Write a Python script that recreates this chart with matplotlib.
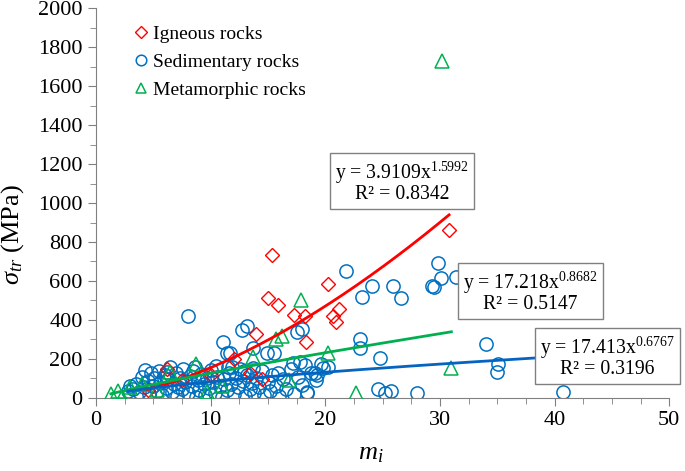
import numpy as np
import matplotlib
matplotlib.use("Agg")
import matplotlib.pyplot as plt

plt.rcParams['font.family'] = 'Liberation Serif'
plt.rcParams['mathtext.fontset'] = 'custom'
plt.rcParams['mathtext.rm'] = 'Liberation Serif'
plt.rcParams['mathtext.it'] = 'Liberation Serif:italic'

# igneous rocks
ign_x = [4.5, 6.2, 7.5, 10.0, 12.0, 13.4, 14.0, 15.0, 15.4, 15.9, 17.3, 18.2, 18.3,
         20.2, 20.7, 20.9, 21.2, 30.8, 14.5]
ign_y = [40, 150, 90, 120, 200, 130, 330, 515, 735, 478, 425, 420, 285,
         585, 420, 392, 456, 862, 95]

# sedimentary rocks
sed_x = [3.2, 3.5, 3.8, 4.0, 4.2, 4.5, 4.6, 4.8, 5.0, 5.1, 5.3, 5.5, 5.6, 5.8, 6.0, 6.1,
         6.3, 6.5, 6.6, 6.8, 7.0, 7.1, 7.3, 7.5, 7.6, 7.8, 8.0, 8.2, 8.4, 8.5, 8.7, 8.9,
         9.0, 9.2, 9.4, 9.5, 9.7, 9.9, 10.0, 10.2, 10.4, 10.6, 10.8, 11.0, 11.2, 11.4,
         11.6, 11.8, 12.0, 12.2, 12.4, 12.6, 12.8, 13.0, 13.2, 13.4, 13.6, 13.8, 14.0,
         14.2, 14.5, 14.7, 15.0, 15.2, 15.4, 15.7, 16.0, 16.3, 16.6, 17.0, 17.3, 17.6,
         18.0, 18.4, 18.8, 19.2, 19.6, 17.8, 4.3, 6.2, 8.6, 3.0, 5.9, 7.2, 10.5, 12.9,
         2.8, 11.5,
         8.0, 21.8, 11.1, 12.7, 13.2, 17.5, 11.7, 13.7, 15.5, 23.2, 23.0, 23.0, 29.8,
         30.1, 31.4, 32.4, 29.3, 29.5, 25.9, 26.6, 24.1, 24.8, 34.0, 35.1, 35.0, 24.6,
         25.2, 25.7, 28.0, 40.7, 18.2, 19.1, 19.8, 18.4, 18.0, 14.9, 11.4, 11.9, 13.7,
         17.2, 15.9, 20.2, 19.3]
sed_y = [45, 70, 30, 110, 55, 85, 20, 130, 60, 100, 35, 140, 75, 15, 120, 50,
         95, 160, 30, 70, 130, 10, 100, 45, 150, 80, 25, 115, 60, 140, 5, 90,
         40, 125, 70, 15, 105, 50, 145, 80, 25, 110, 60, 5, 95, 40,
         130, 70, 20, 105, 55, 150, 85, 10, 120, 45, 75, 25, 100,
         55, 140, 15, 80, 35, 120, 60, 10, 95, 45, 150, 20, 110,
         65, 30, 130, 90, 175, 185, 145, 135, 160, 60, 105, 55, 165, 140,
         35, 160,
         420, 650, 288, 349, 369, 340, 231, 256, 231, 518, 303, 256, 692,
         615, 620, 595, 574, 569, 574, 513, 574, 205, 277, 174, 133, 46,
         26, 36, 26, 31, 169, 128, 154, 26, 354, 231, 231, 159, 154,
         180, 128, 160, 118]

# metamorphic rocks
met_x = [1.3, 1.9, 2.3, 3.0, 5.3, 6.5, 8.7, 9.7, 13.7, 15.7, 16.2, 16.8, 17.9,
         20.2, 22.7, 30.2, 31.0, 4.0, 11.0]
met_y = [20, 38, 5, 56, 41, 133, 175, 31, 210, 305, 318, 90, 500,
         232, 28, 1728, 154, 70, 60]

# power trendlines (a, b) and labels
fits = {
    'ign': (3.9109, 1.5992, '1.5992', '0.8342'),
    'sed': (17.413, 0.6767, '0.6767', '0.3196'),
    'met': (17.218, 0.8682, '0.8682', '0.5147'),
}

red = '#FF0000'
blue = '#0070C0'
green = '#00B050'

fig = plt.figure(figsize=(6.85, 4.71), dpi=100)
ax = fig.add_axes([0.140, 0.155, 0.837, 0.828])

ax.plot(sed_x, sed_y, 'o', ms=9.5, mfc='none', mec=blue, mew=1.1,
        label='Sedimentary rocks', zorder=2)
ax.plot(ign_x, ign_y, 'D', ms=7.5, mfc='none', mec=red, mew=1.0,
        label='Igneous rocks', zorder=3)
ax.plot(met_x, met_y, '^', ms=9.5, mfc='none', mec=green, mew=1.1,
        label='Metamorphic rocks', zorder=3)

for key, xs, col in [('ign', ign_x, red), ('met', met_x, green), ('sed', sed_x, '#0563C1')]:
    a, b = fits[key][0], fits[key][1]
    xx = np.linspace(min(xs), max(xs), 200)
    ax.plot(xx, a * xx ** b, color=col, lw=2.0, zorder=4)

box = dict(boxstyle='square,pad=0.25', fc='white', ec='#808080', lw=1.0)
labels = [('ign', 26.7, 1108, '3.9109'), ('met', 37.9, 544, '17.218'), ('sed', 44.6, 210, '17.413')]
for key, tx, ty, a_txt in labels:
    s = 'y = ' + a_txt + 'x$^{' + fits[key][2] + '}$\nR² = ' + fits[key][3]
    ax.text(tx, ty, s, ha='center', va='center', fontsize=14.2, bbox=box,
            linespacing=0.95, zorder=5, clip_on=False)

ax.set_xlim(0, 50)
ax.set_ylim(0, 2000)
ax.set_xticks(np.arange(0, 51, 10))
ax.set_xticks(np.arange(0, 50.1, 2.5), minor=True)
ax.set_yticks(np.arange(0, 2001, 200))
ax.set_yticks(np.arange(0, 2001, 100), minor=True)
for s in ['top', 'right']:
    ax.spines[s].set_visible(False)
for s in ['left', 'bottom']:
    ax.spines[s].set_color('#808080')
ax.tick_params(which='both', direction='out', color='#808080', labelsize=16)
ax.tick_params(which='major', length=6)
ax.tick_params(which='minor', length=4)

ax.set_ylabel(r'$\sigma_{tr}$ (MPa)', fontsize=19)
ax.yaxis.set_label_coords(-0.122, 0.42)
ax.set_xlabel(r'$m_i$', fontsize=19)
ax.xaxis.set_label_coords(0.48, -0.115)

h, l = ax.get_legend_handles_labels()
order = [1, 0, 2]
ax.legend([h[i] for i in order], [l[i] for i in order], loc='upper left',
          bbox_to_anchor=(0.035, 1.0), frameon=False, fontsize=14,
          markerscale=0.8, handlelength=0.8, handletextpad=0.2, labelspacing=0.52)

fig.savefig('out.png', dpi=100)
